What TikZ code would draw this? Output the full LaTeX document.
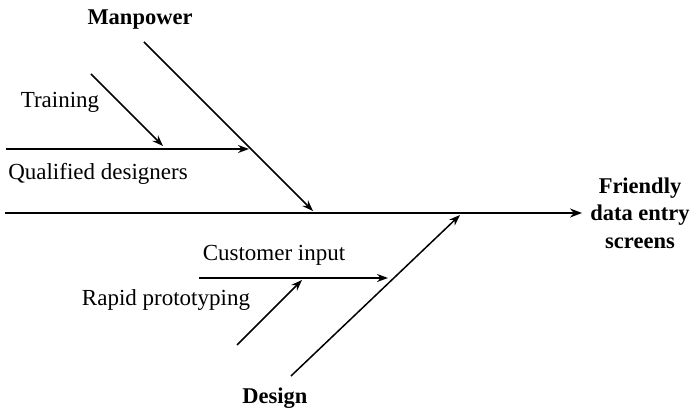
\documentclass[tikz,border=0pt]{standalone}
\usepackage{fontspec}
\setmainfont{Liberation Serif}
\usetikzlibrary{arrows.meta}
\begin{document}
\begin{tikzpicture}[x=1pt,y=-1pt,
  bone/.style={line width=1.5pt,-{Stealth[length=11pt,width=8pt]}},
  spine/.style={line width=2pt,-{Stealth[length=12pt,width=9pt]}},
  lbl/.style={font=\fontsize{23}{27}\selectfont, inner sep=0pt},
  head/.style={font=\fontsize{22.5}{27.5}\selectfont\bfseries, inner sep=0pt, align=center}]
\useasboundingbox (0,0) rectangle (694,411);

% effect and main spine
\coordinate (s0) at (5,213);
\coordinate (s1) at (582,213);
\node[head] (effect) at (640,213) {Friendly\\data entry\\screens};
\draw[spine] (s0) -- (s1);

% Manpower branch
\coordinate (m0) at (144,42);
\coordinate (m1) at (313,211);
\node[head] (manpower) at (140,20) {Manpower};
\draw[bone] (m0) -- (m1);

\coordinate (q0) at (6,149);
\coordinate (q1) at (249,149);
\node[lbl] (qual) at (98,174) {Qualified designers};
\draw[bone] (q0) -- (q1);

\coordinate (t0) at (91,74);
\coordinate (t1) at (163,146);
\node[lbl] (training) at (60,102) {Training};
\draw[bone] (t0) -- (t1);

% Design branch
\coordinate (d0) at (291,376);
\coordinate (d1) at (460,215);
\node[head] (design) at (275,398) {Design};
\draw[bone] (d0) -- (d1);

\coordinate (c0) at (199,278);
\coordinate (c1) at (388,278);
\node[lbl] (cust) at (274,255) {Customer input};
\draw[bone] (c0) -- (c1);

\coordinate (r0) at (237,345);
\coordinate (r1) at (302,280);
\node[lbl] (rapid) at (166,300) {Rapid prototyping};
\draw[bone] (r0) -- (r1);
\end{tikzpicture}
\end{document}
